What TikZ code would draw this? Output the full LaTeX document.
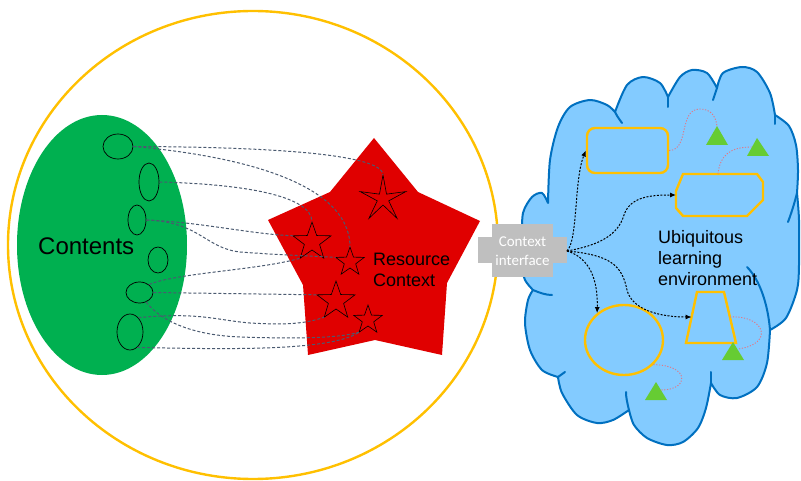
\documentclass[tikz,border=0pt]{standalone}
\usepackage{fontspec}
\setmainfont{Liberation Sans}
\newfontfamily\cifont{Carlito}
\usetikzlibrary{shapes.geometric,calc,arrows.meta}
\definecolor{ringY}{HTML}{FFC000}
\definecolor{contG}{HTML}{00B050}
\definecolor{resR}{HTML}{E00000}
\definecolor{cloudF}{HTML}{83CBFF}
\definecolor{cloudB}{HTML}{0070C0}
\definecolor{ciG}{HTML}{BFBFBF}
\definecolor{linkC}{HTML}{4A5A70}
\definecolor{triG}{HTML}{66CC33}
\definecolor{pinkC}{HTML}{E07888}
\newcommand{\drawstar}[4]{%
  \coordinate (#1) at (#2);
  \foreach \k in {0,...,4}{%
    \coordinate (#1-\k) at ($(#1)+({90+72*\k}:#3)$);
    \coordinate (#1-i\k) at ($(#1)+({126+72*\k}:#4)$);
  }
  \draw[starline] (#1-0) -- (#1-i0) -- (#1-1) -- (#1-i1) -- (#1-2) -- (#1-i2) -- (#1-3) -- (#1-i3) -- (#1-4) -- (#1-i4) -- cycle;
}
\begin{document}
\begin{tikzpicture}[x=1pt,y=1pt,
  subell/.style={ellipse, draw=black, line width=0.7pt, inner sep=0pt},
  starline/.style={draw=black, fill=resR, line width=0.6pt, line join=miter},
  link/.style={draw=linkC, line width=1pt, dash pattern=on 3pt off 2pt},
  ctxarrow/.style={draw=black, line width=1pt, dash pattern=on 2pt off 1.5pt, -{Latex[length=6pt,width=5pt]}},
  pinklink/.style={draw=pinkC, line width=0.9pt, dash pattern=on 1.2pt off 1.6pt},
  yshape/.style={draw=ringY, line width=2.4pt},
  tri/.style={fill=triG, draw=none},
  bump/.style={draw=cloudB, line width=2pt, line cap=round},
]
\fill[white] (0,0) rectangle (801,480);
\useasboundingbox (0,0) rectangle (801,480);

% outer ring
\node[ellipse, draw=ringY, line width=2.4pt, minimum width=490pt, minimum height=468pt, inner sep=0pt] (ring) at (253,235) {};

% contents
\node[ellipse, fill=contG, minimum width=170pt, minimum height=260pt, inner sep=0pt] (cont) at (102,235) {};
\node[font=\fontsize{24}{28}\selectfont, anchor=base west, inner sep=0pt] (contlbl) at (38,225) {Contents};
\node[subell, minimum width=30pt, minimum height=25pt] (e1) at (118,333.5) {};
\node[subell, minimum width=20pt, minimum height=38pt] (e2) at (149,298) {};
\node[subell, minimum width=18pt, minimum height=30pt] (e3) at (137,260) {};
\node[subell, minimum width=20pt, minimum height=26pt] (e4) at (158,220) {};
\node[subell, minimum width=27pt, minimum height=21pt] (e5) at (139.5,187.5) {};
\node[subell, minimum width=26pt, minimum height=36pt] (e6) at (130,148) {};

% resource context star
\fill[resR] (374,342) -- (418,288) -- (480,259) -- (447,197) -- (442,125) -- (375,140) -- (308,125) -- (303,195) -- (268,260) -- (330,288) -- cycle;
\coordinate (rc) at (374,240);
\drawstar{s1}{383,281}{24}{6}
\drawstar{s2}{312,238}{20}{8}
\drawstar{s3}{350,218}{15}{6}
\drawstar{s4}{336,179}{20}{8}
\drawstar{s5}{368,160}{15}{6}
\node[font=\fontsize{18}{21}\selectfont, align=left, anchor=north west, inner sep=0pt] (rctext) at (373,227) {Resource\\Context};

% connectors contents -> resource stars
\draw[link] (e1.east) .. controls (280,333) and (383,325) .. (s1-0);
\draw[link] (e1.east) .. controls (230,325) and (350,300) .. (s3-0);
\draw[link] (e2.east) .. controls (240,296) and (312,285) .. (s2-0);
\draw[link] (e3.east) .. controls (200,258) and (250,246) .. (s2-1);
\draw[link] (e3.east) .. controls (200,258) and (205,232) .. (240,228) .. controls (280,225) and (310,224) .. (s3-1);
\draw[link] (e5.40) .. controls (175,207) and (260,210) .. (s2-2);
\draw[link] (e5.east) -- (s4-1);
\draw[link] (e6.60) .. controls (200,168) and (215,160) .. (250,157) .. controls (285,155) and (305,156) .. (s4-2);
\draw[link] (e5.-55) .. controls (160,160) and (190,145) .. (240,143) .. controls (300,141) and (340,142) .. (s5-2);
\draw[link] (e6.-65) .. controls (220,131) and (330,128) .. (s5-2);

% cloud
\filldraw[fill=cloudF, draw=cloudB, line width=2pt, line join=round] (533,190)
 -- plot[smooth] coordinates {(533,190) (525,200) (522,215) (522,240) (523,267) (532,283) (542,287) (548,277)}
 -- plot[smooth] coordinates {(548,277) (550,320) (558,353) (570,373) (590,380) (607,375) (615,368)}
 -- plot[smooth] coordinates {(615,368) (627,395) (643,403) (660,397) (668,383)}
 -- plot[smooth] coordinates {(668,383) (680,403) (692,410) (707,407) (717,392)}
 -- plot[smooth] coordinates {(717,392) (723,407) (742,413) (757,408) (770,387) (775,365)}
 -- plot[smooth] coordinates {(775,365) (789,354) (796,335) (798,310) (797,287)}
 -- plot[smooth] coordinates {(797,287) (799,260) (799,215) (797,190) (786,162) (770,150)}
 -- plot[smooth] coordinates {(770,150) (767,117) (757,93) (737,82) (720,85) (711,97)}
 -- plot[smooth] coordinates {(711,97) (706,72) (698,52) (683,38) (667,35) (647,42) (634,55) (629,70)}
 -- plot[smooth] coordinates {(629,70) (613,60) (597,57) (577,65) (562,87) (558,103)}
 -- plot[smooth] coordinates {(558,103) (542,110) (530,130) (525,157) (528,180) (533,190)}
 -- cycle;
\draw[bump] (615,368) .. controls (618,362) and (620,360) .. (622,357);
\draw[bump] (668,383) -- (668,373);
\draw[bump] (717,392) -- (713,380);
\draw[bump] (775,365) -- (775,356);
\draw[bump] (797,287) .. controls (794,275) and (791,266) .. (788,258);
\draw[bump] (770,150) .. controls (768,175) and (760,200) .. (747,213);
\draw[bump] (711,97) -- (711,108);
\draw[bump] (629,70) .. controls (627,78) and (626,83) .. (626,88);
\draw[bump] (558,103) -- (565,108);
\draw[bump] (533,190) .. controls (540,187) and (546,185) .. (552,185);

% context interface
\fill[ciG] (478,217) rectangle (567,243);
\fill[ciG] (492,203) rectangle (553,256);
\node[font=\cifont\fontsize{15}{19}\selectfont, text=white, align=center, inner sep=0pt] (ci) at (522.5,229) {Context\\interface};
\coordinate (cis) at (567,229);

% shapes in the environment
\node[yshape, rounded corners=8pt, minimum width=81pt, minimum height=45pt, inner sep=0pt] (r1) at (627.5,329.5) {};
\draw[yshape] (683,306) -- (757,306) -- (763,298) -- (763,280) -- (747,264) -- (683,264) -- (676,272) -- (676,289) -- cycle;
\coordinate (oct-w) at (676,285);
\coordinate (oct-n) at (718,306);
\node[yshape, ellipse, minimum width=78pt, minimum height=70pt, inner sep=0pt] (c1) at (624,140) {};
\draw[yshape] (686,137) -- (736,137) -- (724,188) -- (697,188) -- cycle;
\coordinate (trap-w) at (691.6,163);
\coordinate (trap-e) at (730,163);

% triangles
\fill[tri] (706,335) -- (728,335) -- (717,354) -- cycle;
\coordinate (t1a) at (717,354);
\fill[tri] (747,324) -- (769,324) -- (757,342) -- cycle;
\coordinate (t2l) at (752,333);
\fill[tri] (722,120) -- (744,120) -- (733,138) -- cycle;
\coordinate (t3r) at (738,131);
\fill[tri] (645,80) -- (667,80) -- (656,98) -- cycle;
\coordinate (t4r) at (661,90);

% pink links
\draw[pinklink] (r1.east) .. controls (690,330) and (678,371) .. (700,371) .. controls (712,371) and (716,362) .. (t1a);
\draw[pinklink] (oct-n) .. controls (720,325) and (730,333) .. (t2l);
\draw[pinklink] (trap-e) .. controls (765,165) and (775,136) .. (t3r);
\draw[pinklink] (c1.-40) .. controls (690,115) and (690,90) .. (t4r);

% context arrows
\draw[ctxarrow] (cis) .. controls (578,240) and (574,300) .. (r1.west);
\draw[ctxarrow] (cis) .. controls (600,235) and (618,245) .. (624,265) .. controls (630,283) and (650,285) .. (oct-w);
\draw[ctxarrow] (cis) .. controls (590,222) and (598,200) .. (c1.135);
\draw[ctxarrow] (cis) .. controls (610,225) and (622,215) .. (627,190) .. controls (632,170) and (660,163) .. (trap-w);

\node[font=\fontsize{18}{21}\selectfont, align=left, anchor=north west, inner sep=0pt] (ule) at (658,250) {Ubiquitous\\learning\\environment};
\end{tikzpicture}
\end{document}
